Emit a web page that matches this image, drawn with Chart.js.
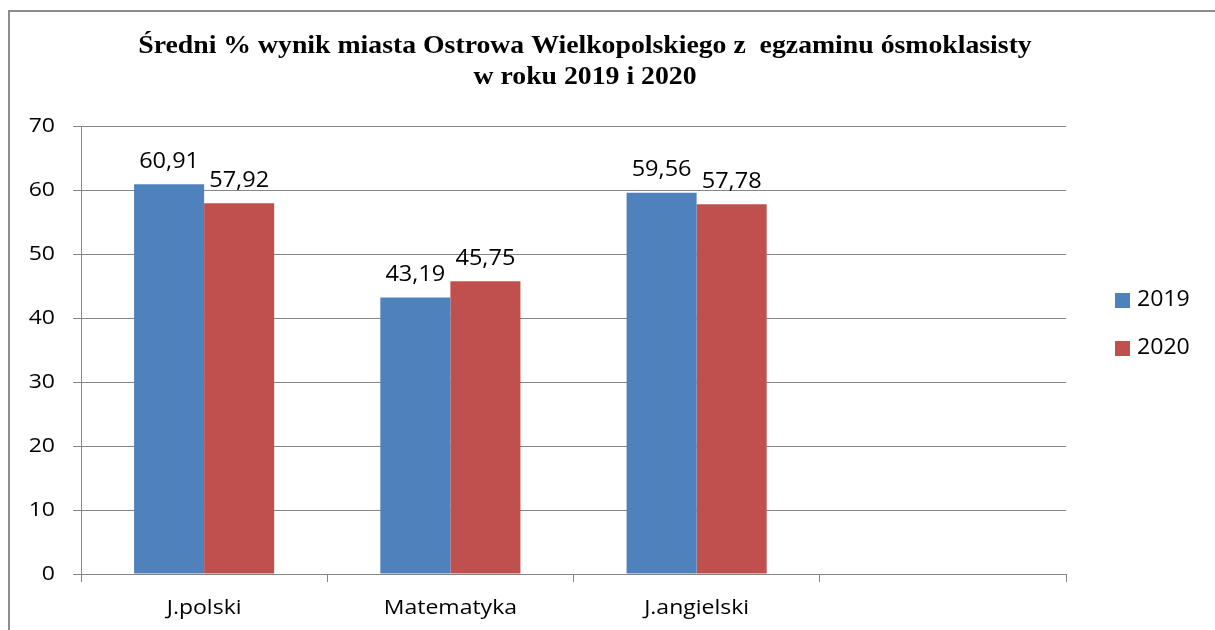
<!DOCTYPE html>
<html>
<head>
<meta charset="utf-8">
<script src="https://cdn.jsdelivr.net/npm/chart.js@4.4.1/dist/chart.umd.min.js"></script>
<style>
  html, body { margin: 0; padding: 0; background: #fff; }
  #wrap { position: relative; width: 1215px; height: 630px; }
</style>
</head>
<body>
<div id="wrap"><canvas id="chart" width="1215" height="630"></canvas></div>
<script>
const categories = ["J.polski", "Matematyka", "J.angielski", ""];
const values2019 = [60.91, 43.19, 59.56, null];
const values2020 = [57.92, 45.75, 57.78, null];
const seriesNames = ["2019", "2020"];
const yTicks = [0, 10, 20, 30, 40, 50, 60, 70];
const titleLines = ["Średni % wynik miasta Ostrowa Wielkopolskiego z  egzaminu ósmoklasisty", "w roku 2019 i 2020"];

const LABEL_FONT = "'Open Sans', 'Noto Sans', sans-serif";
const GRID = "#868686";
const STRETCH = 1.15; // source text is a bit wider than the fonts we have

function wideText(ctx, text, x, y, align, sx) {
  ctx.save();
  ctx.translate(x, y);
  ctx.scale(sx || STRETCH, 1);
  ctx.textAlign = align;
  ctx.fillText(text, 0, 0);
  ctx.restore();
}

// frame, title, axis labels, value labels and legend drawn by hand
const decorations = {
  id: "decorations",
  beforeDraw(chart) {
    const ctx = chart.ctx;
    ctx.save();
    ctx.strokeStyle = "#8c8c8c";
    ctx.lineWidth = 2;
    ctx.beginPath();
    ctx.moveTo(9, 630);
    ctx.lineTo(9, 11);
    ctx.lineTo(1215, 11);
    ctx.stroke();
    ctx.restore();
  },
  afterDatasetsDraw(chart) {
    const ctx = chart.ctx;
    const xs = chart.scales.x, ys = chart.scales.y;
    ctx.save();
    ctx.fillStyle = "#000";

    // title
    ctx.font = "bold 25px 'Liberation Serif', 'Times New Roman', serif";
    ctx.textBaseline = "middle";
    wideText(ctx, titleLines[0], 585, 47, "center", 1.11);
    wideText(ctx, titleLines[1], 585, 78, "center", 1.11);

    // axis labels
    ctx.font = "20px " + LABEL_FONT;
    yTicks.forEach(v => wideText(ctx, String(v), 55, ys.getPixelForValue(v), "right"));
    categories.forEach((c, i) => {
      if (c) wideText(ctx, c, xs.getPixelForValue(i), 608, "center");
    });

    // value labels
    ctx.font = "21px " + LABEL_FONT;
    ctx.textBaseline = "bottom";
    chart.data.datasets.forEach((ds, i) => {
      const meta = chart.getDatasetMeta(i);
      meta.data.forEach((bar, j) => {
        const v = ds.data[j];
        if (v == null) return;
        wideText(ctx, v.toFixed(2).replace(".", ","), bar.x, bar.y - 12, "center", 1.12);
      });
    });

    // legend
    ctx.textBaseline = "middle";
    chart.data.datasets.forEach((ds, i) => {
      const y = 300 + i * 48;
      ctx.fillStyle = ds.backgroundColor;
      ctx.fillRect(1115, y - 7, 15, 15);
      ctx.fillStyle = "#000";
      wideText(ctx, ds.label, 1137, y, "left", 1.1);
    });
    ctx.restore();
  }
};

new Chart(document.getElementById("chart"), {
  type: "bar",
  data: {
    labels: categories,
    datasets: [
      { label: seriesNames[0], data: values2019, backgroundColor: "#4F81BD" },
      { label: seriesNames[1], data: values2020, backgroundColor: "#C0504D" }
    ]
  },
  options: {
    responsive: false,
    animation: false,
    events: [],
    layout: { padding: { left: 0, top: 126, right: 1215 - 1066, bottom: 0 } },
    categoryPercentage: 0.569,
    barPercentage: 1,
    plugins: {
      legend: { display: false },
      title: { display: false },
      tooltip: { enabled: false }
    },
    scales: {
      x: {
        afterFit: (s) => { s.height = 56; },
        grid: { offset: true, drawOnChartArea: false, color: GRID, tickLength: 8 },
        border: { color: GRID, width: 1 },
        ticks: { display: false }
      },
      y: {
        min: 0,
        max: 70,
        afterFit: (s) => { s.width = 81; },
        grid: { color: GRID, tickLength: 8 },
        border: { color: GRID, width: 1 },
        ticks: { display: false, stepSize: 10 }
      }
    }
  },
  plugins: [decorations]
});
</script>
</body>
</html>
